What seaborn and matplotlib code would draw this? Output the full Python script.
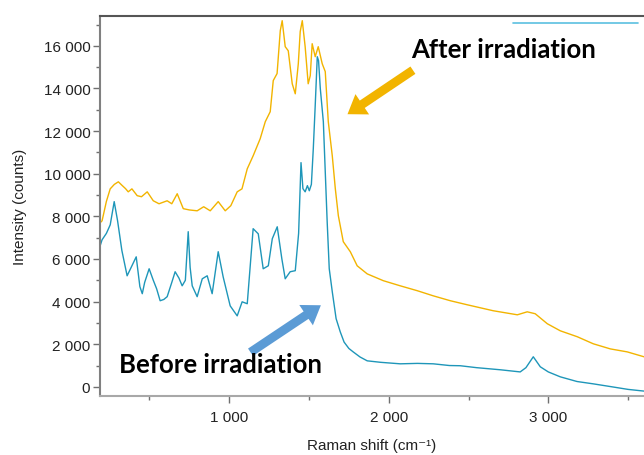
import matplotlib
matplotlib.use('Agg')
import matplotlib.pyplot as plt
from matplotlib.ticker import FuncFormatter, MultipleLocator
from matplotlib.lines import Line2D
import seaborn as sns
import pandas as pd

# ── Data (Raman shift in cm-1, intensity in counts) ──
before_x = [191, 203, 230, 254, 279, 300, 327, 360, 385, 417, 440, 455, 470,
            498, 524, 545, 567, 590, 611, 640, 661, 685, 705, 725, 743, 755,
            768, 799, 831, 862, 893, 931, 962, 1006, 1050, 1081, 1113, 1150,
            1182, 1213, 1245, 1270, 1301, 1330, 1351, 1382, 1414, 1435, 1450,
            1462, 1476, 1490, 1502, 1515, 1527, 1539, 1552, 1560, 1571, 1590,
            1602, 1614, 1627, 1646, 1670, 1696, 1720, 1750, 1777, 1820, 1865,
            1950, 2072, 2180, 2279, 2380, 2448, 2550, 2700, 2824, 2860, 2906,
            2950, 3000, 3075, 3180, 3282, 3400, 3500, 3600]
before_y = [6620, 6900, 7200, 7600, 8690, 7800, 6400, 5210, 5600, 6100, 4700,
            4370, 4900, 5540, 5000, 4600, 4040, 4100, 4230, 4900, 5400, 5100,
            4740, 5000, 7280, 5600, 4740, 4230, 5070, 5210, 4370, 6340, 5160,
            3800, 3330, 3990, 3900, 7420, 7180, 5540, 5680, 6950, 7510, 6000,
            5070, 5400, 5450, 7200, 10520, 9300, 9150, 9440, 9200, 9500, 11170,
            13190, 15490, 15300, 13990, 12440, 10090, 7750, 5540, 4460, 3200,
            2580, 2100, 1800, 1640, 1400, 1220, 1150, 1080, 1100, 1080, 1000,
            990, 900, 800, 700, 900, 1410, 940, 700, 470, 250, 140, 0, -120, -200]

after_x = [191, 203, 230, 254, 280, 305, 330, 350, 367, 390, 423, 450, 486,
           524, 560, 611, 640, 674, 712, 750, 799, 840, 881, 931, 975, 1010,
           1050, 1080, 1113, 1150, 1194, 1226, 1257, 1276, 1300, 1320, 1332,
           1351, 1370, 1395, 1414, 1433, 1445, 1458, 1476, 1495, 1508, 1520,
           1539, 1558, 1583, 1602, 1621, 1646, 1665, 1684, 1715, 1759, 1802,
           1865, 1966, 2072, 2179, 2279, 2386, 2492, 2655, 2806, 2868, 2918,
           2994, 3075, 3182, 3282, 3389, 3495, 3600]
after_y = [7700, 7790, 8700, 9290, 9500, 9620, 9440, 9300, 9150, 9290, 8970,
           8920, 9150, 8730, 8590, 8730, 8590, 9060, 8360, 8300, 8260, 8450,
           8260, 8690, 8260, 8500, 9150, 9290, 10230, 10840, 11640, 12440,
           12910, 14370, 14700, 16710, 17180, 15960, 15770, 14220, 13750,
           15160, 16670, 17180, 15960, 14220, 14600, 16100, 15490, 15960,
           15160, 14790, 12440, 10840, 9300, 8030, 6810, 6340, 5680, 5300,
           4980, 4740, 4510, 4270, 4040, 3850, 3570, 3380, 3520, 3430, 2960,
           2630, 2350, 2020, 1780, 1640, 1410]

YELLOW = '#F2B400'
BLUE = '#1E96B9'
ARROW_BLUE = '#5B9BD5'


def thousands(v, _):
    return f'{int(round(v)):,}'.replace(',', ' ')


def main():
    sns.set_style('white')
    plt.rcParams['font.family'] = ['Liberation Sans', 'DejaVu Sans']

    before = pd.DataFrame({'shift': before_x, 'counts': before_y})
    after = pd.DataFrame({'shift': after_x, 'counts': after_y})

    fig = plt.figure(figsize=(6.44, 4.56), dpi=100)
    ax = fig.add_axes([100 / 644, 59 / 456, 544 / 644, 380 / 456])

    sns.lineplot(data=after, x='shift', y='counts', color=YELLOW, lw=1.0,
                 ax=ax, sort=False)
    sns.lineplot(data=before, x='shift', y='counts', color=BLUE, lw=1.0,
                 ax=ax, sort=False)

    ax.set_xlim(190, 3600)
    ax.set_ylim(-430, 17400)

    ax.xaxis.set_major_locator(MultipleLocator(1000))
    ax.xaxis.set_minor_locator(MultipleLocator(500))
    ax.yaxis.set_major_locator(MultipleLocator(2000))
    ax.yaxis.set_minor_locator(MultipleLocator(1000))
    ax.xaxis.set_major_formatter(FuncFormatter(thousands))
    ax.yaxis.set_major_formatter(FuncFormatter(thousands))

    ax.tick_params(axis='both', which='both', bottom=True, left=True,
                   top=False, right=False)
    ax.tick_params(axis='both', which='major', direction='out', length=5,
                   width=1, color='#707070', labelsize=11, labelcolor='#222222')
    ax.tick_params(axis='both', which='minor', direction='out', length=3,
                   width=1, color='#707070')
    ax.tick_params(axis='x', which='major', pad=5)
    ax.tick_params(axis='y', which='major', pad=2)

    ax.spines['right'].set_visible(False)
    ax.spines['top'].set_color('#555555')
    ax.spines['left'].set_color('#808080')
    ax.spines['bottom'].set_color('#a8a8a8')
    for s in ('top', 'left', 'bottom'):
        ax.spines[s].set_linewidth(1.5)

    ax.set_xlabel('Raman shift (cm⁻¹)', fontsize=11, color='#222222',
                  labelpad=10)
    ax.set_ylabel('Intensity (counts)', fontsize=11, color='#222222',
                  labelpad=12)

    # short legend-like sample stroke in the top right corner
    ax.add_line(Line2D([0.759, 0.989], [0.982, 0.982], transform=ax.transAxes,
                       color='#5BC0E0', lw=1.2))

    # annotations
    ax.annotate('', xy=(1727, 12720), xytext=(2166, 14930),
                arrowprops=dict(arrowstyle='simple,head_length=0.8,'
                                'head_width=1.1,tail_width=0.4',
                                color=YELLOW, mutation_scale=16, lw=0))
    ax.annotate('', xy=(1589, 3900), xytext=(1119, 1550),
                arrowprops=dict(arrowstyle='simple,head_length=0.8,'
                                'head_width=1.1,tail_width=0.4',
                                color=ARROW_BLUE, mutation_scale=16, lw=0))
    ax.text(2718, 15870, 'After irradiation', ha='center', va='center',
            fontsize=18.5, fontweight='bold', color='black',
            family=['Lato', 'DejaVu Sans'])
    ax.text(944, 1080, 'Before irradiation', ha='center', va='center',
            fontsize=18.5, fontweight='bold', color='black',
            family=['Lato', 'DejaVu Sans'])

    fig.savefig('out.png', dpi=100)
    plt.close(fig)


if __name__ == '__main__':
    main()
